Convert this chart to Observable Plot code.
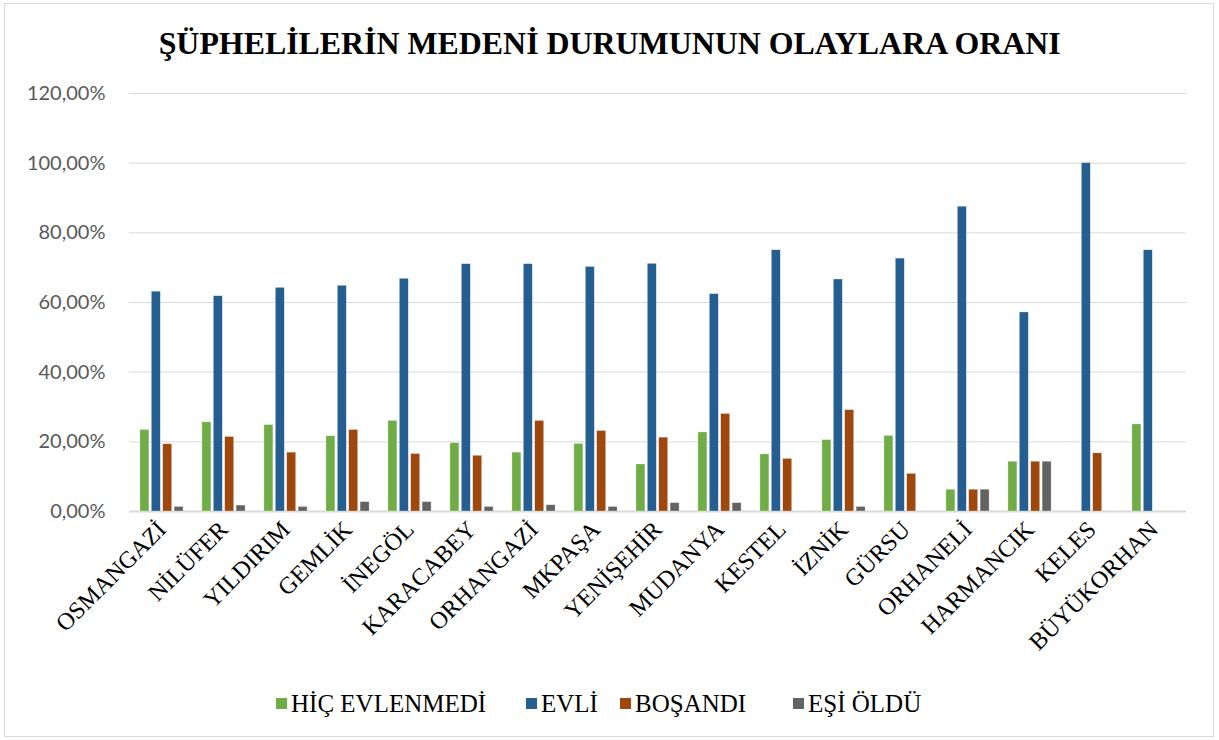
<!DOCTYPE html>
<html>
<head>
<meta charset="utf-8">
<script src="https://cdn.jsdelivr.net/npm/d3@7"></script>
<script src="https://cdn.jsdelivr.net/npm/@observablehq/plot@0.6"></script>
<style>
  html, body { margin: 0; padding: 0; background: #fff; }
  #frame { position: absolute; left: 4px; top: 3px; width: 1210px; height: 734px; border: 1px solid #d9d9d9; box-sizing: border-box; }
  #title { position: absolute; left: 0; top: 26px; width: 1219px; text-align: center; font-family: "Liberation Serif", "DejaVu Serif", serif; font-weight: bold; font-size: 31px; color: #000; white-space: nowrap; line-height: 36px; }
  #title span { display: inline-block; transform-origin: center; }
  #chart { position: absolute; left: 0; top: 80px; }
  #legend { position: absolute; left: 0; top: 686px; }
</style>
</head>
<body>
<div id="frame"></div>
<div id="title"><span>ŞÜPHELİLERİN MEDENİ DURUMUNUN OLAYLARA ORANI</span></div>
<div id="chart"></div>
<div id="legend"></div>
<script>
const districts = ["OSMANGAZİ","NİLÜFER","YILDIRIM","GEMLİK","İNEGÖL","KARACABEY","ORHANGAZİ","MKPAŞA","YENİŞEHİR","MUDANYA","KESTEL","İZNİK","GÜRSU","ORHANELİ","HARMANCIK","KELES","BÜYÜKORHAN"];
const series = ["HİÇ EVLENMEDİ","EVLİ","BOŞANDI","EŞİ ÖLDÜ"];
const colors = ["#70ad47","#255e91","#9e480e","#636363"];
const hicEvlenmedi = [23.4,25.6,24.8,21.6,26.0,19.6,16.9,19.4,13.5,22.7,16.4,20.5,21.7,6.25,14.29,null,25.0];
const evli        = [63.1,61.8,64.2,64.8,66.8,71.0,71.0,70.2,71.1,62.4,75.0,66.6,72.6,87.5,57.14,100.0,75.0];
const bosandi     = [19.3,21.4,16.9,23.4,16.5,16.0,26.0,23.1,21.2,28.0,15.1,29.1,10.8,6.25,14.29,16.7,null];
const esiOldu     = [1.3,1.7,1.3,2.7,2.7,1.3,1.8,1.3,2.4,2.4,null,1.3,null,6.25,14.29,null,null];
const yTicks = [0,20,40,60,80,100,120];

const valuesBySeries = [hicEvlenmedi, evli, bosandi, esiOldu];
const data = districts.flatMap((d, i) => series.map((s, j) => ({district: d, series: s, value: valuesBySeries[j][i]})))
  .filter(r => r.value != null);

const fmt = v => v.toFixed(2).replace(".", ",") + "%";
const step = 11.4;
const serif = "'Liberation Serif', 'DejaVu Serif', serif";

const chart = Plot.plot({
  width: 1219,
  height: 600,
  marginLeft: 129,
  marginRight: 33,
  marginTop: 13,
  marginBottom: 169,
  style: {background: "transparent"},
  x: {domain: districts, paddingInner: 0.85, paddingOuter: 0.425, label: null},
  y: {domain: [0, 120], label: null},
  marks: [
    Plot.gridY(yTicks, {stroke: "#d9d9d9", strokeOpacity: 1, strokeWidth: 1}),
    Plot.ruleY([0], {stroke: "#d9d9d9", strokeWidth: 2}),
    ...series.map((s, j) => Plot.barY(data.filter(r => r.series === s), {
      x: "district", y: "value", fill: colors[j], dx: (j - 1.5) * step,
      stroke: "#ffffff", strokeOpacity: 0.5, strokeWidth: 0.6
    })),
    Plot.axisY(yTicks, {tickSize: 0, tickPadding: 24, tickFormat: fmt, fontSize: 20, fontFamily: "Lato, 'Liberation Sans', sans-serif", fill: "#595959", label: null}),
    Plot.axisX({tickSize: 0, tickPadding: 14, tickRotate: -45, fontSize: 24, fontFamily: serif, fill: "#000", label: null})
  ]
});
document.getElementById("chart").appendChild(chart);

// title stretch to match the reference width
const tspan = document.querySelector("#title span");
const tw = tspan.getBoundingClientRect().width;
tspan.style.transform = `scaleX(${902 / tw})`;

// legend (SVG, same serif face as the axis labels)
const lefts = [276, 526, 620, 793];
const lsvg = d3.select("#legend").append("svg").attr("width", 1219).attr("height", 34);
const items = lsvg.selectAll("g").data(series).join("g")
  .attr("transform", (d, j) => `translate(${lefts[j]},0)`);
items.append("rect").attr("x", 0).attr("y", 12).attr("width", 11).attr("height", 11)
  .attr("fill", (d, j) => colors[j]);
items.append("text").attr("x", 15).attr("y", 26)
  .attr("font-family", serif).attr("font-size", 25).attr("fill", "#000")
  .text(d => d);
</script>
</body>
</html>
